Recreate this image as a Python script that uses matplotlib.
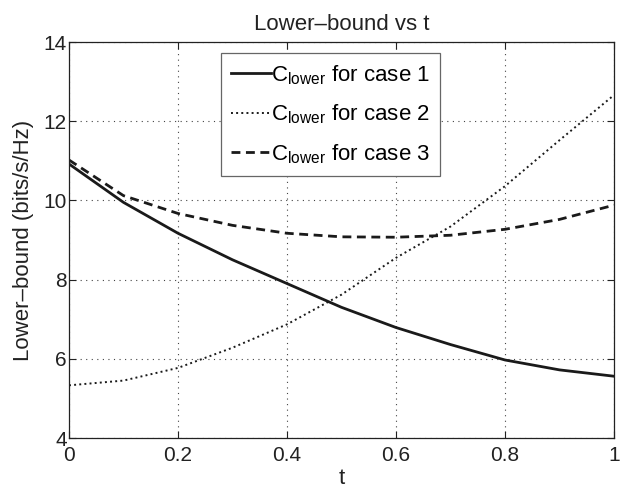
import matplotlib
matplotlib.use("Agg")
import matplotlib.pyplot as plt

t = [0.0, 0.1, 0.2, 0.3, 0.4, 0.5, 0.6, 0.7, 0.8, 0.9, 1.0]
case1 = [10.92, 9.95, 9.17, 8.50, 7.90, 7.30, 6.79, 6.36, 5.97, 5.72, 5.56]
case2 = [5.33, 5.45, 5.77, 6.28, 6.87, 7.62, 8.55, 9.34, 10.36, 11.52, 12.66]
case3 = [11.02, 10.12, 9.67, 9.37, 9.17, 9.08, 9.07, 9.12, 9.27, 9.52, 9.88]
labels = ["C$_{\\mathregular{lower}}$ for case 1",
          "C$_{\\mathregular{lower}}$ for case 2",
          "C$_{\\mathregular{lower}}$ for case 3"]
xticks = [0, 0.2, 0.4, 0.6, 0.8, 1]
xticklabels = ['0', '0.2', '0.4', '0.6', '0.8', '1']
yticks = [4, 6, 8, 10, 12, 14]

plt.rcParams['font.family'] = ['Liberation Sans', 'DejaVu Sans']
plt.rcParams['mathtext.fontset'] = 'custom'
plt.rcParams['mathtext.rm'] = 'Liberation Sans'

fig = plt.figure(figsize=(6.23, 4.87), dpi=100)
ax = fig.add_axes([69/623, 1-438/487, 545/623, 396/487])

ink = '#1a1a1a'
ax.plot(t, case1, '-', color=ink, lw=2.0, label=labels[0])
ax.plot(t, case2, ':', color=ink, lw=1.4, label=labels[1])
ax.plot(t, case3, '--', color=ink, lw=2.0, label=labels[2], dashes=(3.2, 2.0))

ax.set_xlim(0, 1)
ax.set_ylim(4, 14)
ax.set_xticks(xticks)
ax.set_xticklabels(xticklabels)
ax.set_yticks(yticks)
ax.grid(True, linestyle=(0, (1, 4)), color='#444444', lw=0.8)
ax.tick_params(direction='in', length=5, width=0.8, labelsize=15, top=True, right=True,
               colors='#222222')
ax.tick_params(axis='x', pad=6)
ax.tick_params(axis='y', pad=1.5)
for s in ax.spines.values():
    s.set_color('#222222')
    s.set_linewidth(0.9)

ax.set_title('Lower\u2013bound vs t', fontsize=16, pad=8.6, color='#222222')
ax.set_xlabel('t', fontsize=16, color='#222222', va='center')
ax.xaxis.set_label_coords(0.5, (438 - 478) / 396)
ax.set_ylabel('Lower\u2013bound (bits/s/Hz)', fontsize=16, color='#222222', va='center')
ax.yaxis.set_label_coords((24 - 69) / 545, 0.5)

leg = ax.legend(loc='upper left', bbox_to_anchor=((221 - 69) / 545, (438 - 53) / 396), fontsize=16,
                handlelength=1.8, handletextpad=0.0, borderpad=0.45, labelspacing=0.72,
                fancybox=False, framealpha=1, edgecolor='#666666', borderaxespad=0)
leg.get_frame().set_linewidth(0.9)

fig.savefig('out.png', dpi=100)
